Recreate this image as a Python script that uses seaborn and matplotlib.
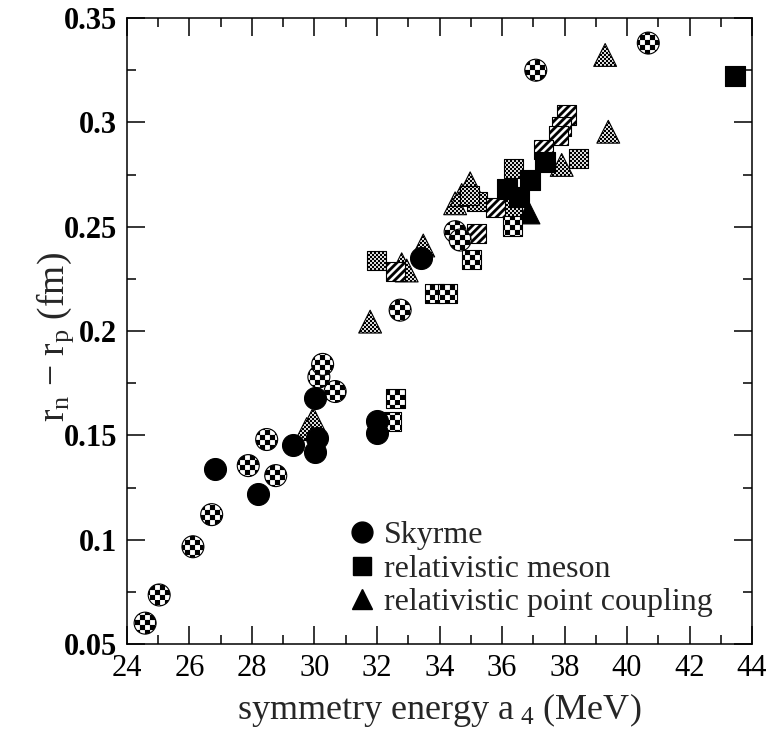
import numpy as np
import matplotlib
matplotlib.use("Agg")
import matplotlib.pyplot as plt
import matplotlib.hatch as mhatch
from matplotlib.path import Path
from matplotlib.lines import Line2D
import seaborn as sns


# Skyrme (circles)
sky_check_x = [24.58, 25.03, 26.11, 26.71, 27.88, 28.47, 28.76, 30.66, 30.14, 30.26, 32.74, 34.50, 34.66, 37.08, 40.68]
sky_check_y = [0.060, 0.0735, 0.0966, 0.112, 0.1355, 0.148, 0.1307, 0.171, 0.178, 0.184, 0.210, 0.2476, 0.2436, 0.325, 0.338]
sky_black_x = [26.82, 28.20, 29.32, 30.02, 30.07, 30.02, 31.99, 31.99, 33.41]
sky_black_y = [0.134, 0.1219, 0.1454, 0.1677, 0.1486, 0.1422, 0.157, 0.151, 0.2348]

# relativistic meson (squares)
mes_gray_x = [36.36, 38.45, 36.33, 35.20, 34.95, 31.99]
mes_gray_y = [0.278, 0.2828, 0.259, 0.262, 0.265, 0.234]
mes_stripe_x = [38.07, 37.91, 37.82, 37.32, 35.80, 35.19, 32.58]
mes_stripe_y = [0.3035, 0.298, 0.2935, 0.287, 0.259, 0.2468, 0.2284]
mes_check_x = [32.60, 32.47, 35.03, 33.85, 34.25, 36.34]
mes_check_y = [0.1677, 0.1565, 0.2344, 0.218, 0.218, 0.2503]
mes_black_x = [43.46, 37.38, 36.15, 36.90, 36.55]
mes_black_y = [0.322, 0.281, 0.268, 0.2724, 0.264]

# relativistic point coupling (triangles)
pc_gray_x = [29.96, 29.75, 31.78, 32.79, 32.95, 33.48, 34.50, 34.71, 34.98, 37.91, 39.30, 39.40]
pc_gray_y = [0.158, 0.153, 0.2045, 0.232, 0.229, 0.241, 0.2612, 0.2652, 0.2708, 0.2796, 0.3323, 0.2955]
pc_black_x = [36.84]
pc_black_y = [0.257]

legend_labels = ["Skyrme", "relativistic meson", "relativistic point coupling"]
x_ticks = [24, 26, 28, 30, 32, 34, 36, 38, 40, 42, 44]
y_ticks = [0.05, 0.1, 0.15, 0.2, 0.25, 0.3, 0.35]
y_ticklabels = ["0.05", "0.1", "0.15", "0.2", "0.25", "0.3", "0.35"]


# filled hatch patterns: checkerboard ('O', coarse / 'o', fine) and bold stripes ('/')
class Checker(mhatch.HatchPatternBase):
    char = "O"
    cells = 20

    def __init__(self, hatch, density):
        self.n = hatch.count(self.char) * self.cells
        self.num_vertices = (self.n * self.n // 2) * 5

    def set_vertices_and_codes(self, vertices, codes):
        step = 1.0 / self.n
        sq = np.array([[0, 0], [1, 0], [1, 1], [0, 1], [0, 0]]) * step
        parts = [sq + [i * step, j * step]
                 for i in range(self.n) for j in range(self.n) if (i + j) % 2 == 0]
        vertices[:] = np.concatenate(parts)
        codes[:] = np.tile([Path.MOVETO, Path.LINETO, Path.LINETO, Path.LINETO, Path.CLOSEPOLY], len(parts))


class FineChecker(Checker):
    char = "o"
    cells = 50


class Stripes(mhatch.HatchPatternBase):
    per_unit = 13

    def __init__(self, hatch, density):
        self.m = hatch.count("/") * self.per_unit
        self.num_vertices = (2 * self.m + 2) * 5 if self.m else 0

    def set_vertices_and_codes(self, vertices, codes):
        p = 1.0 / self.m
        w = p / 2
        parts = []
        for k in range(-self.m - 1, self.m + 1):
            c = k * p
            parts.append(np.array([[-1, -1 + c], [2, 2 + c], [2, 2 + c + w], [-1, -1 + c + w], [-1, -1 + c]]))
        vertices[:] = np.concatenate(parts)
        codes[:] = np.tile([Path.MOVETO, Path.LINETO, Path.LINETO, Path.LINETO, Path.CLOSEPOLY], len(parts))


ht = mhatch._hatch_types
ht[ht.index(mhatch.LargeCircles)] = Checker
ht[ht.index(mhatch.SmallCircles)] = FineChecker
ht[ht.index(mhatch.NorthEastHatch)] = Stripes

sns.set_theme(style="ticks")
plt.rcParams["font.family"] = ["Liberation Serif", "DejaVu Serif"]
plt.rcParams["mathtext.fontset"] = "custom"
plt.rcParams["mathtext.rm"] = "Liberation Serif"
plt.rcParams["mathtext.it"] = "Liberation Serif:italic"
plt.rcParams["hatch.linewidth"] = 0.1
plt.rcParams["hatch.color"] = "black"

fig = plt.figure(figsize=(7.71, 7.36), dpi=100)
ax = fig.add_axes([0.1647, 0.125, 0.8107, 0.8505])

groups = [
    # triangles first, then squares, circles on top
    (pc_gray_x, pc_gray_y, "^", 270, "o"),
    (pc_black_x, pc_black_y, "^", 270, None),
    (mes_gray_x, mes_gray_y, "s", 190, "o"),
    (mes_stripe_x, mes_stripe_y, "s", 190, "/"),
    (mes_check_x, mes_check_y, "s", 190, "O"),
    (mes_black_x, mes_black_y, "s", 190, None),
    (sky_check_x, sky_check_y, "o", 250, "O"),
    (sky_black_x, sky_black_y, "o", 250, None),
]
for gx, gy, mk, size, hatch in groups:
    if hatch is None:
        sns.scatterplot(x=gx, y=gy, marker=mk, s=size, color="black",
                        edgecolor="black", linewidth=0.8, ax=ax)
    else:
        sns.scatterplot(x=gx, y=gy, marker=mk, s=size, color="white",
                        edgecolor="black", linewidth=0.8, hatch=hatch, ax=ax)

ax.set_xlim(24, 44)
ax.set_ylim(0.05, 0.35)
ax.set_xticks(x_ticks)
ax.set_xticks(np.arange(25, 44, 1), minor=True)
ax.set_yticks(y_ticks)
ax.set_yticklabels(y_ticklabels, fontweight="bold")
ax.set_yticks(np.arange(0.075, 0.35, 0.05), minor=True)
ax.tick_params(which="both", direction="in", top=True, right=True, width=1.1, colors="black")
ax.tick_params(which="major", length=13, labelsize=22, pad=7)
ax.tick_params(which="minor", length=6.5)
for sp in ax.spines.values():
    sp.set_linewidth(1.1)
    sp.set_color("black")

ax.set_xlabel("symmetry energy a$_{\\ 4}$ (MeV)", fontsize=26, labelpad=6)
ax.set_ylabel("r$_\\mathrm{n}$ $-$ r$_\\mathrm{p}$ (fm)", fontsize=27)
ax.yaxis.set_label_coords(-0.082, 0.49)

handles = [Line2D([], [], marker=m, color="black", linestyle="none", markersize=ms)
           for m, ms in [("o", 15), ("s", 13), ("^", 15)]]
ax.legend(handles, legend_labels, loc="lower left", bbox_to_anchor=(0.33, 0.022),
          frameon=False, fontsize=23, handletextpad=0.2, labelspacing=0.13,
          handlelength=1.0, borderaxespad=0)

fig.savefig("out.png", dpi=100)
